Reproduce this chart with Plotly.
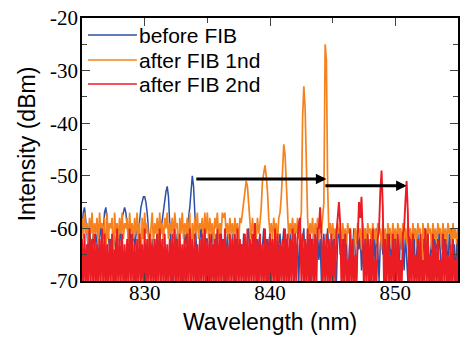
import numpy as np
import plotly.graph_objects as go

# ---------------- data ----------------
WL_START = 825.0   # nm, first sample
WL_STEP = 0.1      # nm between samples

before_fib = [
    -60, -57, -56, -58, -61, -64, -59, -66, -63, -61,   # 825
    -64, -61, -63, -67, -62, -59, -63, -59, -57, -56,   # 826
    -58, -61, -64, -62, -66, -63, -61, -65, -62, -60,   # 827
    -63, -60, -58, -57, -56, -57, -59, -62, -65, -61,   # 828
    -63, -60, -64, -62, -59, -61, -58, -56, -55, -54,   # 829
    -54, -55, -57, -60, -63, -66, -62, -64, -67, -63,   # 830
    -61, -64, -62, -60, -59, -57, -55, -53, -52, -54,   # 831
    -59, -66, -70, -65, -62, -64, -61, -63, -67, -72,   # 832
    -70, -64, -61, -63, -60, -58, -56, -53, -50, -52,   # 833
    -57, -63, -66, -72, -62, -60, -64, -61, -65, -62,   # 834
    -62, -66, -70, -63, -60, -65, -68, -61, -64, -70,   # 835
    -63, -60, -66, -62, -70, -64, -61, -67, -63, -69,   # 836
    -61, -65, -70, -62, -64, -60, -68, -63, -66, -61,   # 837
    -64, -70, -62, -60, -66, -63, -69, -61, -65, -62,   # 838
    -70, -63, -61, -67, -64, -60, -66, -62, -70, -63,   # 839
    -61, -65, -62, -68, -60, -64, -70, -63, -61, -66,   # 840
    -63, -60, -67, -62, -65, -70, -61, -64, -62, -68,   # 841
    -60, -66, -63, -70, -61, -65, -62, -60, -67, -63,   # 842
    -65, -61, -70, -62, -64, -60, -68, -63, -61, -66,   # 843
    -62, -70, -64, -61, -67, -63, -60, -65, -70, -62,   # 844
    -64, -61, -66, -70, -62, -60, -65, -63, -69, -61,   # 845
    -66, -62, -70, -64, -61, -67, -63, -60, -65, -70,   # 846
    -62, -64, -61, -68, -63, -70, -60, -66, -62, -64,   # 847
    -70, -61, -65, -62, -67, -60, -64, -70, -63, -61,   # 848
    -65, -62, -70, -61, -64, -60, -67, -63, -69, -62,   # 849
    -61, -66, -63, -70, -60, -64, -62, -68, -61, -65,   # 850
    -70, -63, -61, -66, -62, -60, -69, -64, -61, -67,   # 851
    -62, -70, -64, -60, -66, -63, -61, -68, -65, -62,   # 852
    -70, -61, -64, -62, -67, -60, -65, -70, -63, -61,   # 853
    -66, -62, -69, -61, -64, -60, -67, -63, -70, -62,   # 854
    -64,                                                # 855
]

after_fib_1nd = [
    -58, -62, -57, -61, -59, -63, -58, -61, -57, -62,   # 825
    -59, -61, -58, -63, -57, -60, -59, -62, -58, -68,   # 826
    -57, -62, -59, -60, -58, -67, -57, -61, -59, -62,   # 827
    -58, -61, -57, -62, -59, -60, -58, -63, -57, -61,   # 828
    -59, -62, -58, -61, -57, -63, -59, -69, -58, -62,   # 829
    -57, -61, -59, -62, -68, -60, -57, -63, -59, -61,   # 830
    -58, -62, -57, -61, -59, -63, -58, -60, -57, -62,   # 831
    -59, -61, -58, -62, -57, -60, -59, -68, -58, -61,   # 832
    -57, -62, -59, -61, -58, -63, -57, -69, -59, -62,   # 833
    -58, -61, -57, -62, -59, -60, -58, -63, -57, -61,   # 834
    -57, -62, -58, -61, -59, -63, -58, -60, -57, -62,   # 835
    -59, -61, -57, -58, -57, -61, -59, -62, -58, -61,   # 836
    -59, -62, -58, -61, -59, -63, -58, -59, -57, -55,   # 837
    -52, -51, -52, -55, -59, -62, -58, -61, -59, -62,   # 838
    -58, -61, -59, -56, -51, -49, -48, -50, -53, -58,   # 839
    -61, -59, -62, -58, -61, -59, -63, -58, -57, -54,   # 840
    -49, -44, -46, -52, -58, -62, -59, -61, -58, -62,   # 841
    -59, -61, -58, -62, -59, -57, -39, -33, -37, -48,   # 842
    -58, -62, -59, -61, -58, -63, -59, -61, -58, -62,   # 843
    -59, -61, -58, -55, -25, -28, -52, -61, -59, -62,   # 844
    -59, -62, -60, -63, -59, -61, -60, -64, -59, -62,   # 845
    -60, -63, -59, -61, -60, -64, -68, -62, -60, -63,   # 846
    -59, -61, -60, -64, -59, -62, -60, -63, -59, -61,   # 847
    -60, -64, -59, -62, -60, -63, -59, -61, -60, -64,   # 848
    -59, -62, -60, -67, -59, -61, -60, -64, -59, -62,   # 849
    -60, -63, -59, -61, -60, -64, -59, -62, -60, -63,   # 850
    -59, -61, -60, -64, -59, -62, -60, -63, -59, -61,   # 851
    -60, -69, -59, -62, -60, -63, -59, -61, -60, -64,   # 852
    -59, -62, -60, -63, -59, -61, -60, -64, -59, -62,   # 853
    -60, -63, -59, -61, -60, -64, -59, -62, -60, -63,   # 854
    -60,                                                # 855
]

after_fib_2nd = [
    -62, -72, -61, -71, -63, -72, -60, -70, -62, -72,   # 825
    -61, -71, -63, -72, -62, -70, -60, -72, -61, -71,   # 826
    -63, -72, -62, -70, -61, -72, -64, -71, -60, -72,   # 827
    -62, -70, -61, -72, -63, -71, -62, -72, -60, -70,   # 828
    -61, -72, -63, -71, -62, -72, -61, -70, -63, -72,   # 829
    -60, -71, -62, -72, -61, -70, -63, -72, -62, -71,   # 830
    -61, -72, -60, -70, -62, -72, -61, -71, -63, -72,   # 831
    -62, -70, -61, -72, -60, -71, -62, -72, -61, -70,   # 832
    -63, -72, -62, -71, -61, -72, -60, -70, -62, -72,   # 833
    -61, -71, -63, -72, -62, -70, -61, -72, -60, -71,   # 834
    -62, -72, -61, -70, -63, -72, -62, -71, -60, -72,   # 835
    -61, -70, -62, -72, -60, -71, -63, -72, -61, -70,   # 836
    -62, -72, -61, -71, -60, -72, -62, -70, -63, -72,   # 837
    -61, -71, -60, -72, -62, -70, -61, -72, -59, -71,   # 838
    -62, -72, -61, -70, -63, -72, -60, -71, -62, -72,   # 839
    -61, -70, -62, -72, -60, -71, -61, -72, -63, -70,   # 840
    -62, -72, -60, -71, -61, -72, -62, -70, -60, -72,   # 841
    -61, -71, -62, -59, -58, -70, -61, -72, -62, -71,   # 842
    -60, -72, -61, -70, -62, -72, -61, -71, -60, -60,   # 843
    -56, -61, -72, -62, -70, -61, -72, -62, -71, -61,   # 844
    -72, -62, -70, -61, -58, -55, -59, -71, -62, -72,   # 845
    -61, -70, -66, -72, -60, -71, -62, -72, -65, -70,   # 846
    -62, -55, -58, -54, -61, -72, -62, -70, -61, -72,   # 847
    -62, -71, -60, -72, -66, -70, -62, -60, -53, -49,   # 848
    -56, -71, -62, -72, -61, -70, -65, -72, -61, -71,   # 849
    -62, -72, -61, -70, -66, -72, -61, -60, -55, -51,   # 850
    -57, -71, -62, -72, -61, -70, -65, -72, -62, -71,   # 851
    -61, -72, -66, -70, -60, -72, -61, -71, -65, -72,   # 852
    -61, -70, -63, -72, -62, -71, -66, -72, -61, -70,   # 853
    -62, -72, -65, -71, -63, -72, -62, -70, -66, -72,   # 854
    -62,                                                # 855
]

series_names = ["before FIB", "after FIB 1nd", "after FIB 2nd"]
series_values = [before_fib, after_fib_1nd, after_fib_2nd]
series_colors = ["#2b50a5", "#f5821f", "#ec1c24"]
series_widths = [1.5, 1.7, 1.9]

# arrows: (start wavelength, end wavelength, level dBm)
arrow_start = [834.0, 844.3]
arrow_end = [844.5, 850.9]
arrow_level = [-50.6, -51.9]

x_tick_vals = [830, 840, 850]
y_tick_vals = [-70, -60, -50, -40, -30, -20]

# ---------------- figure ----------------
fig = go.Figure()
for name, vals, col, w in zip(series_names, series_values, series_colors, series_widths):
    wl = WL_START + WL_STEP * np.arange(len(vals))
    fig.add_trace(go.Scatter(x=wl, y=vals, mode="lines", name=name,
                             line=dict(color=col, width=w), showlegend=False))

# arrows
for xs, xe, lv in zip(arrow_start, arrow_end, arrow_level):
    fig.add_annotation(x=xe, y=lv, ax=xs, ay=lv, xref="x", yref="y",
                       axref="x", ayref="y", showarrow=True, text="",
                       arrowhead=2, arrowsize=0.7, arrowwidth=3,
                       arrowcolor="black", standoff=0)

# custom legend (line sample + text)
leg_font = dict(family="Liberation Sans, Arial, sans-serif", size=21, color="black")
leg_y = [0.935, 0.840, 0.749]
for name, col, yy in zip(series_names, series_colors, leg_y):
    fig.add_shape(type="line", xref="paper", yref="paper",
                  x0=0.016, x1=0.146, y0=yy, y1=yy,
                  line=dict(color=col, width=1.5))
    fig.add_annotation(xref="paper", yref="paper", x=0.146, y=yy,
                       xanchor="left", yanchor="middle", text=name,
                       showarrow=False, font=leg_font)

tick_font = dict(family="Liberation Serif, Times New Roman, DejaVu Serif, serif",
                 size=21, color="black")
title_font = dict(family="Liberation Sans, Arial, sans-serif", size=23, color="black")

# axis titles as annotations (precise placement)
fig.add_annotation(xref="paper", yref="paper", x=0.5, y=-0.156,
                   xanchor="center", yanchor="middle", text="Wavelength (nm)",
                   showarrow=False, font=title_font)
fig.add_annotation(xref="paper", yref="paper", x=-0.146, y=0.52,
                   xanchor="center", yanchor="middle", text="Intensity (dBm)",
                   textangle=-90, showarrow=False, font=title_font)

fig.update_layout(
    width=460, height=338,
    margin=dict(l=82, r=2, t=18, b=57),
    paper_bgcolor="white", plot_bgcolor="white",
    showlegend=False,
    font=dict(family="Liberation Serif, Times New Roman, DejaVu Serif, serif",
              size=21, color="black"),
)
fig.update_xaxes(
    range=[825, 855], tickvals=x_tick_vals, ticktext=[str(v) for v in x_tick_vals],
    ticks="inside", ticklen=8, tickwidth=1.3, tickcolor="#444",
    minor=dict(ticks="inside", ticklen=5, tickwidth=1.3, tickcolor="#444",
               tickvals=[825, 835, 845, 855]),
    showline=True, linecolor="black", linewidth=1.5, mirror="allticks",
    showgrid=False, zeroline=False, tickfont=tick_font,
    automargin=False, ticklabelstandoff=-8, ticklabeloverflow="allow",
)
fig.update_yaxes(
    range=[-70, -20], tickvals=y_tick_vals, ticktext=[str(v) for v in y_tick_vals],
    ticks="inside", ticklen=8, tickwidth=1.3, tickcolor="#444",
    minor=dict(ticks="inside", ticklen=5, tickwidth=1.3, tickcolor="#444",
               tickvals=[-65, -55, -45, -35, -25]),
    showline=True, linecolor="black", linewidth=1.5, mirror="allticks",
    showgrid=False, zeroline=False, tickfont=tick_font,
    automargin=False, ticklabelstandoff=-2, ticklabeloverflow="allow",
)

# remove the browser's default 8 px page margin so the figure sits at (0, 0)
fig.write_html("out.html", config={"displayModeBar": False},
               post_script="document.body.style.margin = '0';")
